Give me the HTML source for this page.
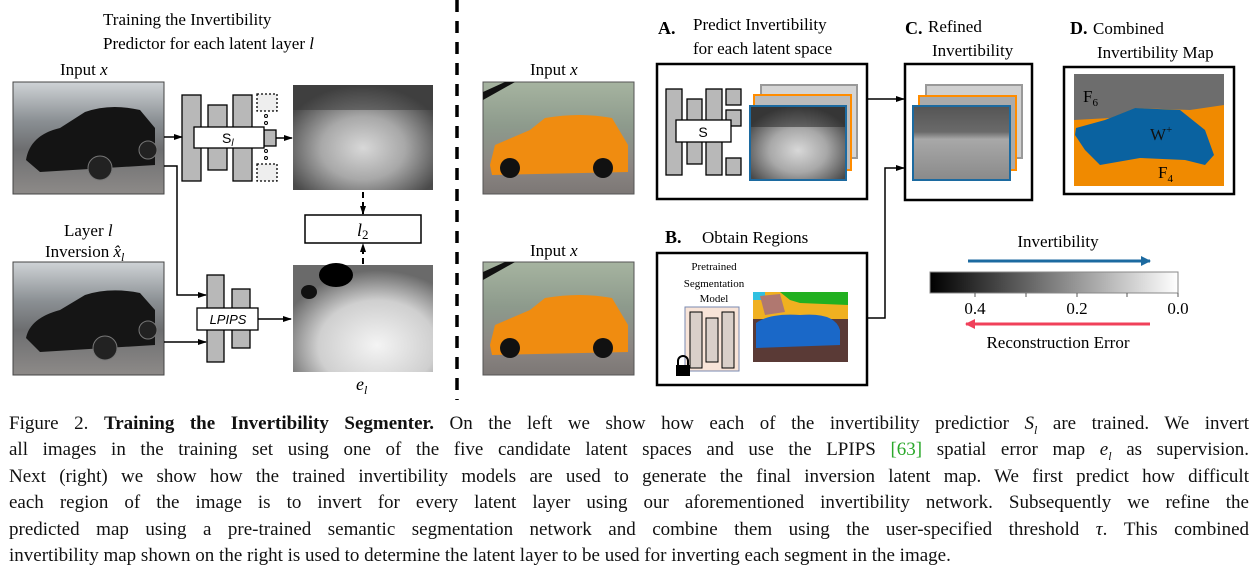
<!DOCTYPE html>
<html><head><meta charset="utf-8">
<style>
html,body{margin:0;padding:0;background:#fff;}
#wrap{position:relative;width:1257px;height:586px;overflow:hidden;font-family:"Liberation Serif",serif;}
.cap{position:absolute;left:9px;width:1240px;font-size:19px;line-height:26px;color:#111;white-space:nowrap;}
.j{text-align:justify;text-align-last:justify;white-space:normal;}
</style></head>
<body>
<div id="wrap">
<svg width="1257" height="400" viewBox="0 0 1257 400" xmlns="http://www.w3.org/2000/svg" style="position:absolute;left:0;top:0" font-family="Liberation Serif, serif">
<defs>
<marker id="ah" markerUnits="userSpaceOnUse" markerWidth="9" markerHeight="8" refX="8" refY="4" orient="auto"><path d="M0,1 L9,4 L0,7 z" fill="#000"/></marker>
<marker id="ahb" markerUnits="userSpaceOnUse" markerWidth="10" markerHeight="10" refX="9" refY="5" orient="auto"><path d="M0,0 L10,5 L0,10 z" fill="#1c6aa0"/></marker>
<marker id="ahr" markerUnits="userSpaceOnUse" markerWidth="10" markerHeight="10" refX="9" refY="5" orient="auto"><path d="M0,0 L10,5 L0,10 z" fill="#f0405a"/></marker>
<linearGradient id="sky" x1="0" y1="0" x2="0" y2="1"><stop offset="0" stop-color="#cfd3d6"/><stop offset="0.35" stop-color="#8a8f93"/><stop offset="0.6" stop-color="#6d6e70"/><stop offset="1" stop-color="#8d8a88"/></linearGradient>
<linearGradient id="sky2" x1="0" y1="0" x2="0" y2="1"><stop offset="0" stop-color="#a6b4a0"/><stop offset="0.4" stop-color="#8d9a8c"/><stop offset="0.75" stop-color="#8b8683"/><stop offset="1" stop-color="#7c7775"/></linearGradient>
<radialGradient id="m1" cx="0.5" cy="0.6" r="0.6"><stop offset="0" stop-color="#d8d8d8"/><stop offset="0.5" stop-color="#a8a8a8"/><stop offset="1" stop-color="#4a4a4a"/></radialGradient>
<radialGradient id="m2" cx="0.6" cy="0.75" r="0.7"><stop offset="0" stop-color="#f4f4f4"/><stop offset="0.6" stop-color="#cfcfcf"/><stop offset="1" stop-color="#6a6a6a"/></radialGradient>
<linearGradient id="cb" x1="0" y1="0" x2="1" y2="0"><stop offset="0" stop-color="#000"/><stop offset="1" stop-color="#fff"/></linearGradient>
<linearGradient id="ref" x1="0" y1="0" x2="0" y2="1"><stop offset="0" stop-color="#555"/><stop offset="0.35" stop-color="#6a6a6a"/><stop offset="0.45" stop-color="#a8a8a8"/><stop offset="1" stop-color="#8a8a8a"/></linearGradient>
</defs>

<text x="103" y="25" font-size="17">Training the Invertibility</text>
<text x="103" y="49" font-size="17">Predictor for each latent layer <tspan font-style="italic">l</tspan></text>
<text x="60" y="75" font-size="17">Input <tspan font-style="italic">x</tspan></text>

<g>
<rect x="13" y="82" width="151" height="112" fill="url(#sky)" stroke="#444"/>
<path d="M26,160 Q30,135 60,128 L85,112 Q110,103 140,110 L155,128 L155,165 L40,172 Z" fill="#141414"/>
<circle cx="100" cy="168" r="12" fill="#222" stroke="#777"/><circle cx="148" cy="150" r="9" fill="#222" stroke="#777"/>
</g>
<text x="64" y="236" font-size="17">Layer <tspan font-style="italic">l</tspan></text>
<text x="45" y="257" font-size="17">Inversion <tspan font-style="italic">x̂</tspan><tspan font-style="italic" font-size="12" dy="4">l</tspan></text>
<g>
<rect x="13" y="262" width="151" height="113" fill="url(#sky)" stroke="#444"/>
<path d="M26,338 Q30,318 60,310 L85,295 Q110,287 140,293 L155,310 L155,345 L40,352 Z" fill="#151515"/>
<circle cx="105" cy="348" r="12" fill="#222" stroke="#777"/><circle cx="148" cy="330" r="9" fill="#222" stroke="#777"/>
</g>

<g fill="#b8b8b8" stroke="#000" stroke-width="1.3">
<rect x="182" y="95" width="19" height="86"/><rect x="208" y="105" width="19" height="65"/><rect x="233" y="95" width="19" height="86"/>
<rect x="264" y="130" width="12" height="16"/>
<rect x="257" y="94" width="20" height="17" fill="#eee" stroke-dasharray="2,2"/><rect x="257" y="164" width="20" height="17" fill="#eee" stroke-dasharray="2,2"/>
<rect x="194" y="127" width="70" height="21" fill="#fff"/>
</g>
<circle cx="266" cy="116" r="1.5" fill="none" stroke="#000"/><circle cx="266" cy="123" r="1.5" fill="none" stroke="#000"/><circle cx="266" cy="151" r="1.5" fill="none" stroke="#000"/><circle cx="266" cy="158" r="1.5" fill="none" stroke="#000"/>
<text x="222" y="143" font-size="14" font-family="Liberation Sans, sans-serif">S<tspan font-size="10" dy="3" font-style="italic">l</tspan></text>

<line x1="164" y1="137" x2="182" y2="137" stroke="#000" stroke-width="1.5" marker-end="url(#ah)"/>
<line x1="276" y1="138" x2="292" y2="138" stroke="#000" stroke-width="1.5" marker-end="url(#ah)"/>
<rect x="293" y="85" width="140" height="105" fill="url(#m1)"/>
<rect x="293" y="85" width="140" height="25" fill="#333" opacity="0.5"/>

<line x1="363" y1="192" x2="363" y2="214" stroke="#000" stroke-width="2" stroke-dasharray="6,4" marker-end="url(#ah)"/>
<rect x="305" y="215" width="116" height="28" fill="#fff" stroke="#000" stroke-width="1.5"/>
<text x="357" y="236" font-size="18" font-style="italic">l<tspan font-style="normal" font-size="13" dy="3">2</tspan></text>
<line x1="363" y1="264" x2="363" y2="244" stroke="#000" stroke-width="2" stroke-dasharray="6,4" marker-end="url(#ah)"/>

<g fill="#b8b8b8" stroke="#000" stroke-width="1.3">
<rect x="207" y="275" width="17" height="87"/><rect x="232" y="289" width="18" height="59"/>
<rect x="197" y="308" width="61" height="22" fill="#fff"/>
</g>
<text x="228" y="324" font-size="13" font-style="italic" text-anchor="middle" font-family="Liberation Sans, sans-serif">LPIPS</text>
<polyline points="164,166 177,166 177,295 206,295" fill="none" stroke="#000" stroke-width="1.5" marker-end="url(#ah)"/>
<line x1="164" y1="342" x2="206" y2="342" stroke="#000" stroke-width="1.5" marker-end="url(#ah)"/>
<line x1="258" y1="319" x2="291" y2="319" stroke="#000" stroke-width="1.5" marker-end="url(#ah)"/>
<rect x="293" y="265" width="140" height="107" fill="url(#m2)"/>
<ellipse cx="336" cy="275" rx="17" ry="12" fill="#000"/><ellipse cx="309" cy="292" rx="8" ry="7" fill="#111"/>
<text x="356" y="390" font-size="18" font-style="italic">e<tspan font-size="12" dy="4">l</tspan></text>

<line x1="457" y1="0" x2="457" y2="400" stroke="#000" stroke-width="3.5" stroke-dasharray="12,9"/>

<text x="530" y="75" font-size="17">Input <tspan font-style="italic">x</tspan></text>
<text x="530" y="256" font-size="17">Input <tspan font-style="italic">x</tspan></text>
<g>
<rect x="483" y="82" width="151" height="112" fill="url(#sky2)" stroke="#555"/>
<path d="M490,165 L495,145 L530,130 L545,118 Q580,112 612,118 L628,145 L628,172 L492,175 Z" fill="#f08c10"/>
<circle cx="510" cy="168" r="10" fill="#111"/><circle cx="603" cy="168" r="10" fill="#111"/>
<path d="M483,92 L505,82 L515,82 L483,100 Z" fill="#111"/>
</g>
<g>
<rect x="483" y="262" width="151" height="113" fill="url(#sky2)" stroke="#555"/>
<path d="M490,345 L495,325 L530,310 L545,298 Q580,292 612,298 L628,325 L628,352 L492,355 Z" fill="#f08c10"/>
<circle cx="510" cy="348" r="10" fill="#111"/><circle cx="603" cy="348" r="10" fill="#111"/>
<path d="M483,272 L505,262 L515,262 L483,280 Z" fill="#111"/>
</g>

<text x="658" y="34" font-size="18" font-weight="bold">A.</text>
<text x="693" y="30" font-size="17">Predict Invertibility</text>
<text x="693" y="54" font-size="17">for each latent space</text>
<rect x="657" y="64" width="210" height="135" fill="#fff" stroke="#000" stroke-width="2.5"/>
<g fill="#b8b8b8" stroke="#000" stroke-width="1.3">
<rect x="666" y="89" width="16" height="86"/><rect x="687" y="99" width="15" height="65"/><rect x="706" y="89" width="16" height="86"/>
<rect x="726" y="89" width="15" height="16"/><rect x="726" y="110" width="15" height="16"/><rect x="726" y="158" width="15" height="17"/>
<rect x="676" y="120" width="55" height="22" fill="#fff"/>
</g>
<text x="703" y="137" font-size="14" text-anchor="middle" font-family="Liberation Sans, sans-serif">S</text>
<rect x="761" y="85" width="96" height="73" fill="#d5d5d5" stroke="#999" stroke-width="2"/>
<rect x="754" y="95" width="97" height="75" fill="#bbb" stroke="#ff8c00" stroke-width="2"/>
<rect x="750" y="106" width="96" height="74" fill="url(#m1)" stroke="#1c6aa0" stroke-width="2"/>
<rect x="751" y="107" width="94" height="20" fill="#222" opacity="0.5"/>
<line x1="867" y1="99" x2="904" y2="99" stroke="#000" stroke-width="1.5" marker-end="url(#ah)"/>

<text x="905" y="34" font-size="18" font-weight="bold">C.</text>
<text x="928" y="32" font-size="17">Refined</text>
<text x="932" y="56" font-size="17">Invertibility</text>
<rect x="905" y="64" width="127" height="136" fill="#fff" stroke="#000" stroke-width="2.5"/>
<rect x="926" y="85" width="96" height="73" fill="#d0d0d0" stroke="#999" stroke-width="2"/>
<rect x="919" y="96" width="97" height="74" fill="#aaa" stroke="#ff8c00" stroke-width="2"/>
<rect x="913" y="106" width="97" height="74" fill="url(#ref)" stroke="#1c6aa0" stroke-width="2"/>

<text x="1070" y="34" font-size="18" font-weight="bold">D.</text>
<text x="1093" y="34" font-size="17">Combined</text>
<text x="1097" y="58" font-size="17">Invertibility Map</text>
<rect x="1064" y="67" width="170" height="127" fill="#fff" stroke="#000" stroke-width="2.5"/>
<g>
<rect x="1074" y="74" width="150" height="112" fill="#6d6d6d"/>
<path d="M1074,120 L1110,118 L1135,108 L1190,110 L1224,105 L1224,186 L1074,186 Z" fill="#f08a00"/>
<path d="M1076,128 L1105,120 L1135,108 L1180,110 L1205,130 L1214,155 L1205,165 L1185,160 L1140,158 L1100,165 L1085,150 L1075,135 Z" fill="#0a62a0"/>
</g>
<text x="1083" y="102" font-size="17">F<tspan font-size="11" dy="4">6</tspan></text>
<text x="1150" y="140" font-size="17" fill="#111">W<tspan font-size="11" dy="-7">+</tspan></text>
<text x="1158" y="178" font-size="17">F<tspan font-size="11" dy="4">4</tspan></text>

<text x="665" y="243" font-size="18" font-weight="bold">B.</text>
<text x="702" y="243" font-size="17">Obtain Regions</text>
<rect x="657" y="253" width="210" height="132" fill="#fff" stroke="#000" stroke-width="2.5"/>
<text x="714" y="270" font-size="11" text-anchor="middle">Pretrained</text>
<text x="714" y="287" font-size="11" text-anchor="middle">Segmentation</text>
<text x="714" y="302" font-size="11" text-anchor="middle">Model</text>
<rect x="685" y="307" width="54" height="64" fill="#f8e4d8" stroke="#7a8ab0"/>
<rect x="690" y="312" width="12" height="56" fill="#d9cfc9" stroke="#000"/><rect x="706" y="318" width="12" height="44" fill="#d9cfc9" stroke="#000"/><rect x="722" y="312" width="12" height="56" fill="#d9cfc9" stroke="#000"/>
<g><path d="M678,365 v-4 a5,5 0 0 1 10,0 v4" fill="none" stroke="#000" stroke-width="2"/><rect x="676" y="365" width="14" height="11" fill="#000"/></g>
<g>
<rect x="753" y="292" width="95" height="70" fill="#5a3a36"/>
<rect x="753" y="292" width="95" height="27" fill="#f0b020"/>
<path d="M780,292 L848,292 L848,305 L800,303 L790,300 Z" fill="#22b020"/>
<path d="M753,292 L765,292 L765,300 L753,300 Z" fill="#30c0e0"/>
<path d="M760,296 L780,294 L785,312 L765,315 Z" fill="#b07870"/>
<path d="M756,323 Q770,313 800,315 Q835,312 840,330 L840,345 L756,348 Z" fill="#1a68c8"/>
</g>
<polyline points="867,318 885,318 885,168 904,168" fill="none" stroke="#000" stroke-width="1.5" marker-end="url(#ah)"/>

<text x="1058" y="247" font-size="17" text-anchor="middle">Invertibility</text>
<line x1="968" y1="261" x2="1150" y2="261" stroke="#1c6aa0" stroke-width="3" marker-end="url(#ahb)"/>
<rect x="930" y="272" width="248" height="21" fill="url(#cb)" stroke="#888"/>
<g stroke="#555"><line x1="975" y1="293" x2="975" y2="297"/><line x1="1026" y1="293" x2="1026" y2="297"/><line x1="1077" y1="293" x2="1077" y2="297"/><line x1="1127" y1="293" x2="1127" y2="297"/><line x1="1178" y1="293" x2="1178" y2="297"/></g>
<text x="975" y="314" font-size="17" text-anchor="middle">0.4</text>
<text x="1077" y="314" font-size="17" text-anchor="middle">0.2</text>
<text x="1178" y="314" font-size="17" text-anchor="middle">0.0</text>
<line x1="1150" y1="324" x2="966" y2="324" stroke="#f0405a" stroke-width="3" marker-end="url(#ahr)"/>
<text x="1058" y="348" font-size="17" text-anchor="middle">Reconstruction Error</text>
</svg>

<div>
<div class="cap j" style="top:411px">Figure 2. <b>Training the Invertibility Segmenter.</b> On the left we show how each of the invertibility predictior <i>S<sub style="font-size:12px">l</sub></i> are trained. We invert</div>
<div class="cap j" style="top:437px">all images in the training set using one of the five candidate latent spaces and use the LPIPS <span style="color:#2aa82a">[63]</span> spatial error map <i>e<sub style="font-size:12px">l</sub></i> as supervision.</div>
<div class="cap j" style="top:464px">Next (right) we show how the trained invertibility models are used to generate the final inversion latent map. We first predict how difficult</div>
<div class="cap j" style="top:490px">each region of the image is to invert for every latent layer using our aforementioned invertibility network. Subsequently we refine the</div>
<div class="cap j" style="top:517px">predicted map using a pre-trained semantic segmentation network and combine them using the user-specified threshold <i>τ</i>. This combined</div>
<div class="cap" style="top:543px">invertibility map shown on the right is used to determine the latent layer to be used for inverting each segment in the image.</div>
</div>
</div>
</body></html>
